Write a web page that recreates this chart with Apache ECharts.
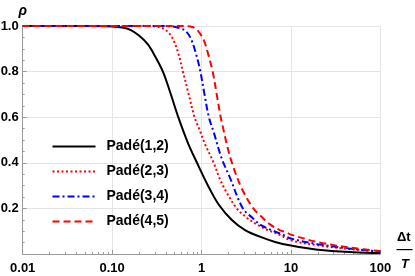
<!DOCTYPE html>
<html>
<head>
<meta charset="utf-8">
<script src="https://cdn.jsdelivr.net/npm/echarts@6/dist/echarts.min.js"></script>
<style>
html,body{margin:0;padding:0;background:#fff;}
#chart{width:415px;height:276px;}
</style>
</head>
<body>
<div id="chart"></div>
<script>
// ---- data ----
var seriesNames = ['Padé(1,2)', 'Padé(2,3)', 'Padé(3,4)', 'Padé(4,5)'];

var x12 = [0.01, 0.05, 0.1, 0.13, 0.16, 0.2, 0.25, 0.3, 0.37, 0.45, 0.55, 0.7, 0.89, 1.2, 1.57, 2.2, 3.07, 4.5, 6.65, 10, 20, 50, 100];
var y12 = [1, 1, 0.998, 0.993, 0.983, 0.958, 0.92, 0.87, 0.80, 0.705, 0.60, 0.49, 0.40, 0.295, 0.215, 0.148, 0.105, 0.076, 0.053, 0.037, 0.019, 0.008, 0.004];

var x23 = [0.01, 0.1, 0.25, 0.316, 0.371, 0.43, 0.484, 0.55, 0.62, 0.72, 0.836, 0.94, 1.1, 1.37, 1.6, 1.91, 2.48, 3.2, 4.14, 5.5, 7.23, 10, 20, 50, 100];
var y23 = [1, 1, 1, 0.997, 0.99, 0.97, 0.94, 0.88, 0.80, 0.70, 0.60, 0.55, 0.48, 0.40, 0.33, 0.27, 0.20, 0.16, 0.13, 0.105, 0.087, 0.06, 0.038, 0.02, 0.011];

var x34 = [0.01, 0.1, 0.3, 0.48, 0.575, 0.655, 0.75, 0.85, 0.96, 1.08, 1.21, 1.38, 1.68, 2.08, 2.9, 3.8, 4.5, 5.8, 7.9, 10, 20, 50, 100];
var y34 = [1, 1, 1, 0.998, 0.99, 0.98, 0.95, 0.89, 0.81, 0.70, 0.60, 0.53, 0.42, 0.335, 0.20, 0.155, 0.13, 0.108, 0.087, 0.068, 0.043, 0.022, 0.011];

var x45 = [0.01, 0.1, 0.5, 0.75, 0.85, 0.962, 1.08, 1.2, 1.334, 1.48, 1.64, 1.75, 1.95, 2.19, 2.8, 3.8, 4.8, 5.83, 7.5, 8.97, 10, 20, 50, 100];
var y45 = [1, 1, 1, 0.998, 0.99, 0.967, 0.93, 0.87, 0.80, 0.70, 0.60, 0.55, 0.47, 0.40, 0.29, 0.20, 0.16, 0.13, 0.105, 0.094, 0.085, 0.052, 0.026, 0.013];

var xTickLabels = ['0.01', '0.10', '1', '10', '100'];
var yTickLabels = ['', '0.2', '0.4', '0.6', '0.8', '1.0'];
var xMinorTicks = [2, 3, 4, 5, 6, 7, 8, 9];

// ---- build ----
function pairs(xs, ys) { return xs.map(function (v, i) { return [v, ys[i]]; }); }
var minorTickPositions = [];
[-2, -1, 0, 1].forEach(function (d) {
  xMinorTicks.forEach(function (m) { minorTickPositions.push(d + Math.log10(m)); });
});

var FONT = '"Liberation Sans", Arial, sans-serif';
var AXIS_GRAY = '#9a9a9a';
var GRID_GRAY = '#e4e4e4';

var chart = echarts.init(document.getElementById('chart'), null, { renderer: 'canvas' });

function lineSeries(name, data, color, type, width) {
  return {
    name: name, type: 'line', data: data, xAxisIndex: 0, yAxisIndex: 0,
    showSymbol: false, symbol: 'none', smooth: 0.35,
    lineStyle: { color: color, width: width, type: type, cap: 'butt' },
    itemStyle: { color: color },
    emphasis: { disabled: true }, animation: false, z: 3
  };
}

chart.setOption({
  animation: false,
  textStyle: { fontFamily: FONT },
  grid: { left: 22.7, right: 34.7, top: 26, bottom: 22, outerBoundsMode: 'none', containLabel: false },
  xAxis: [{
    type: 'log', min: 0.01, max: 100, logBase: 10,
    axisLine: { show: true, onZero: false, lineStyle: { color: AXIS_GRAY, width: 1 } },
    axisTick: { show: true, inside: true, length: 4, lineStyle: { color: AXIS_GRAY } },
    axisLabel: {
      show: true, margin: 8, color: '#000', fontFamily: FONT, fontWeight: 'bold', fontSize: 13,
      formatter: function (v, i) { return xTickLabels[i] !== undefined ? xTickLabels[i] : ''; }
    },
    splitLine: { show: true, lineStyle: { color: GRID_GRAY, width: 1 } },
    minorTick: { show: false }
  }, {
    type: 'value', min: -2, max: 2, position: 'bottom', gridIndex: 0,
    axisLine: { show: false, onZero: false },
    axisLabel: { show: false },
    splitLine: { show: false },
    axisTick: { show: true, inside: true, length: 2, customValues: minorTickPositions, lineStyle: { color: AXIS_GRAY } }
  }],
  yAxis: {
    type: 'value', min: 0, max: 1, interval: 0.2,
    name: 'ρ', nameLocation: 'end', nameGap: 8,
    nameTextStyle: { color: '#000', fontFamily: FONT, fontWeight: 'bold', fontStyle: 'italic', fontSize: 14, align: 'center' },
    axisLine: { show: true, onZero: false, lineStyle: { color: AXIS_GRAY, width: 1 } },
    axisTick: { show: true, inside: true, length: 4, lineStyle: { color: AXIS_GRAY } },
    minorTick: { show: true, splitNumber: 4, length: 2, lineStyle: { color: AXIS_GRAY } },
    axisLabel: {
      show: true, margin: 4, color: '#000', fontFamily: FONT, fontWeight: 'bold', fontSize: 13,
      formatter: function (v, i) { return yTickLabels[i] !== undefined ? yTickLabels[i] : ''; }
    },
    splitLine: { show: true, lineStyle: { color: GRID_GRAY, width: 1 } }
  },
  legend: {
    show: true, orient: 'vertical', left: 46.5, top: 134.5,
    itemWidth: 43, itemHeight: 14, itemGap: 11,
    data: seriesNames,
    itemStyle: { color: 'rgba(0,0,0,0)', borderColor: 'rgba(0,0,0,0)', borderWidth: 0 },
    textStyle: { color: '#000', fontFamily: FONT, fontWeight: 'bold', fontSize: 14, lineHeight: 14, padding: [0, 0, 0, 6] },
    selectedMode: false
  },
  graphic: [
    { type: 'text', left: 397, top: 231, style: { text: 'Δt', fill: '#000', font: 'bold 13px ' + FONT } },
    { type: 'rect', shape: { x: 396.5, y: 249, width: 16, height: 1.2 }, style: { fill: '#000' } },
    { type: 'text', left: 401, top: 258, style: { text: 'T', fill: '#000', font: 'italic bold 13px ' + FONT } }
  ],
  series: [
    lineSeries(seriesNames[0], pairs(x12, y12), '#000000', 'solid', 2),
    lineSeries(seriesNames[1], pairs(x23, y23), '#ff0000', [2, 2.5], 2),
    lineSeries(seriesNames[2], pairs(x34, y34), '#0000ff', [7, 3, 2, 3], 2),
    lineSeries(seriesNames[3], pairs(x45, y45), '#ff0000', [7, 4], 2)
  ]
});
</script>
</body>
</html>
